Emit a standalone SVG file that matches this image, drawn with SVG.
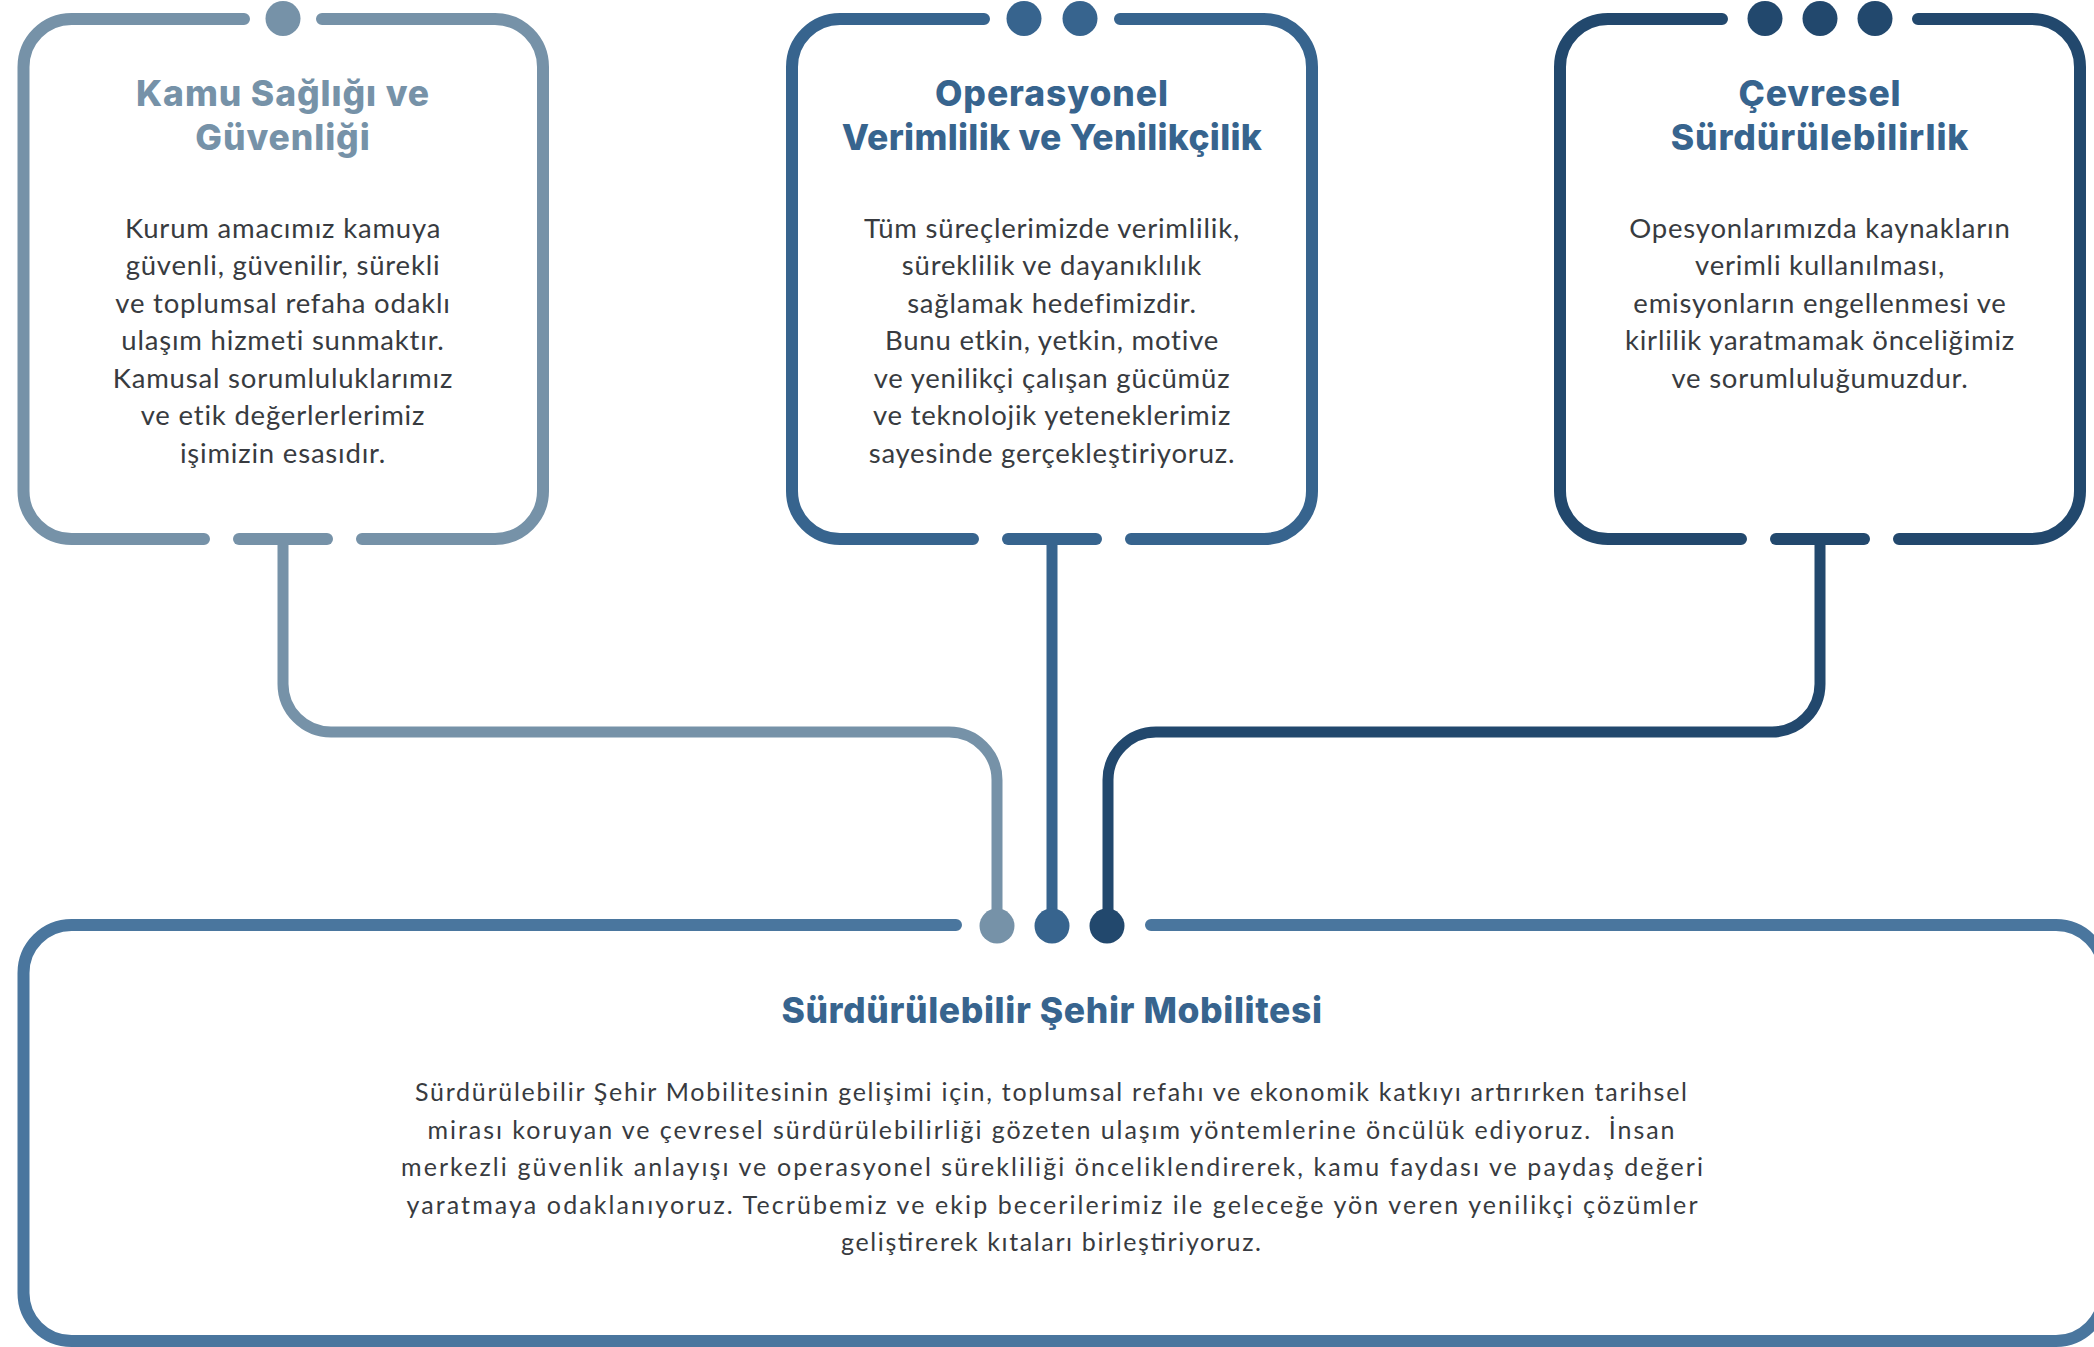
<svg xmlns="http://www.w3.org/2000/svg" width="2094" height="1347" viewBox="0 0 2094 1347">
<style>
.frame{fill:none;stroke-width:12;stroke-linecap:round;stroke-linejoin:round}
.conn{fill:none;stroke-width:11;stroke-linecap:butt}
.light{stroke:#7692A8}
.mid{stroke:#37648E}
.dark{stroke:#22486D}
.base{stroke:#4A769E}
.title{font-family:Inter,"Liberation Sans",sans-serif;font-weight:800;font-size:35.5px;text-anchor:middle;letter-spacing:0.9px}
.body{font-family:Lato,"Liberation Sans",sans-serif;font-size:27.5px;fill:#383B40;text-anchor:middle;letter-spacing:0.8px}
.body2{font-family:Lato,"Liberation Sans",sans-serif;font-size:25px;fill:#383B40;text-anchor:middle}
</style>
<rect width="2094" height="1347" fill="#ffffff"/>

<g id="connectors">
<path class="conn light" d="M283 545 V684 A48 48 0 0 0 331 732 H949 A48 48 0 0 1 997 780 V926"/>
<path class="conn mid" d="M1052 545 V926"/>
<path class="conn dark" d="M1820 545 V684 A48 48 0 0 1 1772 732 H1156 A48 48 0 0 0 1108 780 V926"/>
<circle cx="997" cy="926" r="17.5" fill="#7692A8"/>
<circle cx="1052" cy="926" r="17.5" fill="#37648E"/>
<circle cx="1107" cy="926" r="17.5" fill="#22486D"/>
</g>

<g id="node-kamu">
<path class="frame light" d="M244 19 H71.5 A48 48 0 0 0 23.5 67 V491 A48 48 0 0 0 71.5 539 H204"/>
<path class="frame light" d="M239 539 H327"/>
<path class="frame light" d="M362 539 H495 A48 48 0 0 0 543 491 V67 A48 48 0 0 0 495 19 H322"/>
<circle cx="283" cy="18.5" r="17.5" fill="#7692A8"/>
<text class="title" fill="#7692A8"><tspan x="283" y="106">Kamu Sağlığı ve</tspan><tspan x="283" y="150">Güvenliği</tspan></text>
<text class="body"><tspan x="283" y="237.5">Kurum amacımız kamuya</tspan><tspan x="283" y="275">güvenli, güvenilir, sürekli</tspan><tspan x="283" y="312.5">ve toplumsal refaha odaklı</tspan><tspan x="283" y="350">ulaşım hizmeti sunmaktır.</tspan><tspan x="283" y="387.5">Kamusal sorumluluklarımız</tspan><tspan x="283" y="425">ve etik değerlerlerimiz</tspan><tspan x="283" y="462.5">işimizin esasıdır.</tspan></text>
</g>

<g id="node-operasyonel">
<path class="frame mid" d="M984 19 H840 A48 48 0 0 0 792 67 V491 A48 48 0 0 0 840 539 H973"/>
<path class="frame mid" d="M1008 539 H1096"/>
<path class="frame mid" d="M1131 539 H1264 A48 48 0 0 0 1312 491 V67 A48 48 0 0 0 1264 19 H1120"/>
<circle cx="1024" cy="18.5" r="17.5" fill="#37648E"/>
<circle cx="1080" cy="18.5" r="17.5" fill="#37648E"/>
<text class="title" fill="#37648E"><tspan x="1052" y="106">Operasyonel</tspan><tspan x="1052" y="150" style="letter-spacing:0.3px">Verimlilik ve Yenilikçilik</tspan></text>
<text class="body"><tspan x="1052" y="237.5">Tüm süreçlerimizde verimlilik,</tspan><tspan x="1052" y="275">süreklilik ve dayanıklılık</tspan><tspan x="1052" y="312.5">sağlamak hedefimizdir.</tspan><tspan x="1052" y="350">Bunu etkin, yetkin, motive</tspan><tspan x="1052" y="387.5">ve yenilikçi çalışan gücümüz</tspan><tspan x="1052" y="425">ve teknolojik yeteneklerimiz</tspan><tspan x="1052" y="462.5">sayesinde gerçekleştiriyoruz.</tspan></text>
</g>

<g id="node-cevresel">
<path class="frame dark" d="M1722 19 H1608 A48 48 0 0 0 1560 67 V491 A48 48 0 0 0 1608 539 H1741"/>
<path class="frame dark" d="M1776 539 H1864"/>
<path class="frame dark" d="M1899 539 H2032 A48 48 0 0 0 2080 491 V67 A48 48 0 0 0 2032 19 H1918"/>
<circle cx="1765" cy="18.5" r="17.5" fill="#22486D"/>
<circle cx="1820" cy="18.5" r="17.5" fill="#22486D"/>
<circle cx="1875" cy="18.5" r="17.5" fill="#22486D"/>
<text class="title" fill="#37648E"><tspan x="1820" y="106">Çevresel</tspan><tspan x="1820" y="150">Sürdürülebilirlik</tspan></text>
<text class="body"><tspan x="1820" y="237.5">Opesyonlarımızda kaynakların</tspan><tspan x="1820" y="275">verimli kullanılması,</tspan><tspan x="1820" y="312.5">emisyonların engellenmesi ve</tspan><tspan x="1820" y="350">kirlilik yaratmamak önceliğimiz</tspan><tspan x="1820" y="387.5">ve sorumluluğumuzdur.</tspan></text>
</g>

<g id="node-mobilite">
<path class="frame base" d="M956 925 H71.5 A48 48 0 0 0 23.5 973 V1293 A48 48 0 0 0 71.5 1341 H2056 A48 48 0 0 0 2104 1293 V973 A48 48 0 0 0 2056 925 H1151"/>
<text class="title" fill="#37648E" x="1052" y="1023" style="letter-spacing:0.6px">Sürdürülebilir Şehir Mobilitesi</text>
<text class="body2" x="1051" y="1101" textLength="1272" lengthAdjust="spacing">Sürdürülebilir Şehir Mobilitesinin gelişimi için, toplumsal refahı ve ekonomik katkıyı artırırken tarihsel</text>
<text class="body2" x="1051" y="1138.5" textLength="1247" lengthAdjust="spacing">mirası koruyan ve çevresel sürdürülebilirliği gözeten ulaşım yöntemlerine öncülük ediyoruz.&#160; İnsan</text>
<text class="body2" x="1052" y="1176" textLength="1302" lengthAdjust="spacing">merkezli güvenlik anlayışı ve operasyonel sürekliliği önceliklendirerek, kamu faydası ve paydaş değeri</text>
<text class="body2" x="1052" y="1213.5" textLength="1291" lengthAdjust="spacing">yaratmaya odaklanıyoruz. Tecrübemiz ve ekip becerilerimiz ile geleceğe yön veren yenilikçi çözümler</text>
<text class="body2" x="1051" y="1251" textLength="420" lengthAdjust="spacing">geliştirerek kıtaları birleştiriyoruz.</text>
</g>
</svg>
